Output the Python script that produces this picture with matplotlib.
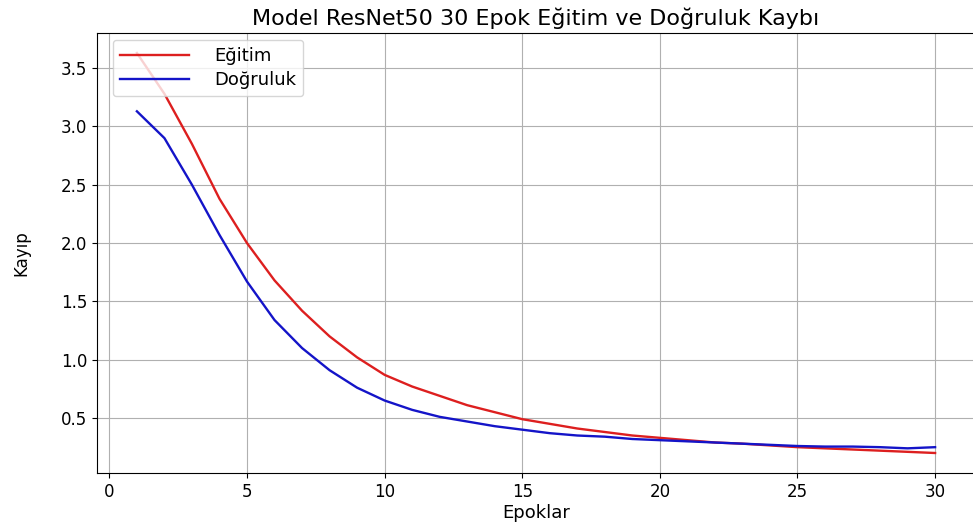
import numpy as np
import matplotlib.pyplot as plt

# epok numaralari ve kayip degerleri
epochs = np.arange(1, 31)
train_loss = [3.63, 3.28, 2.85, 2.38, 2.00, 1.68, 1.42, 1.20, 1.02, 0.87,
              0.77, 0.69, 0.61, 0.55, 0.49, 0.45, 0.41, 0.38, 0.35, 0.33,
              0.31, 0.29, 0.28, 0.265, 0.25, 0.24, 0.23, 0.22, 0.21, 0.20]
val_loss = [3.13, 2.90, 2.50, 2.07, 1.67, 1.34, 1.10, 0.91, 0.76, 0.65,
            0.57, 0.51, 0.47, 0.43, 0.40, 0.37, 0.35, 0.34, 0.32, 0.31,
            0.30, 0.29, 0.28, 0.27, 0.26, 0.255, 0.255, 0.25, 0.24, 0.25]

fig = plt.figure(figsize=(9.73, 5.31), dpi=100)
ax = fig.add_axes([97 / 973, 58 / 531, 878 / 973, 440 / 531])

ax.plot(epochs, train_loss, color="#dd1f1f", linewidth=1.7, label="Eğitim")
ax.plot(epochs, val_loss, color="#1414c8", linewidth=1.7, label="Doğruluk")

ax.set_title("Model ResNet50 30 Epok Eğitim ve Doğruluk Kaybı", fontsize=16, pad=6)
ax.set_xlabel("Epoklar", fontsize=13, labelpad=2)
ax.set_ylabel("Kayıp", fontsize=12, labelpad=22)
ax.tick_params(labelsize=12)
ax.grid(True)
# referansta sag cizgi resmin disinda kaliyor
ax.spines["right"].set_visible(False)
ax.legend(loc="upper left", bbox_to_anchor=(0.018, 0.985), borderaxespad=0,
          fontsize=13, handlelength=3.8, handletextpad=1.4, labelspacing=0.35)

fig.savefig("out.png", dpi=100)
